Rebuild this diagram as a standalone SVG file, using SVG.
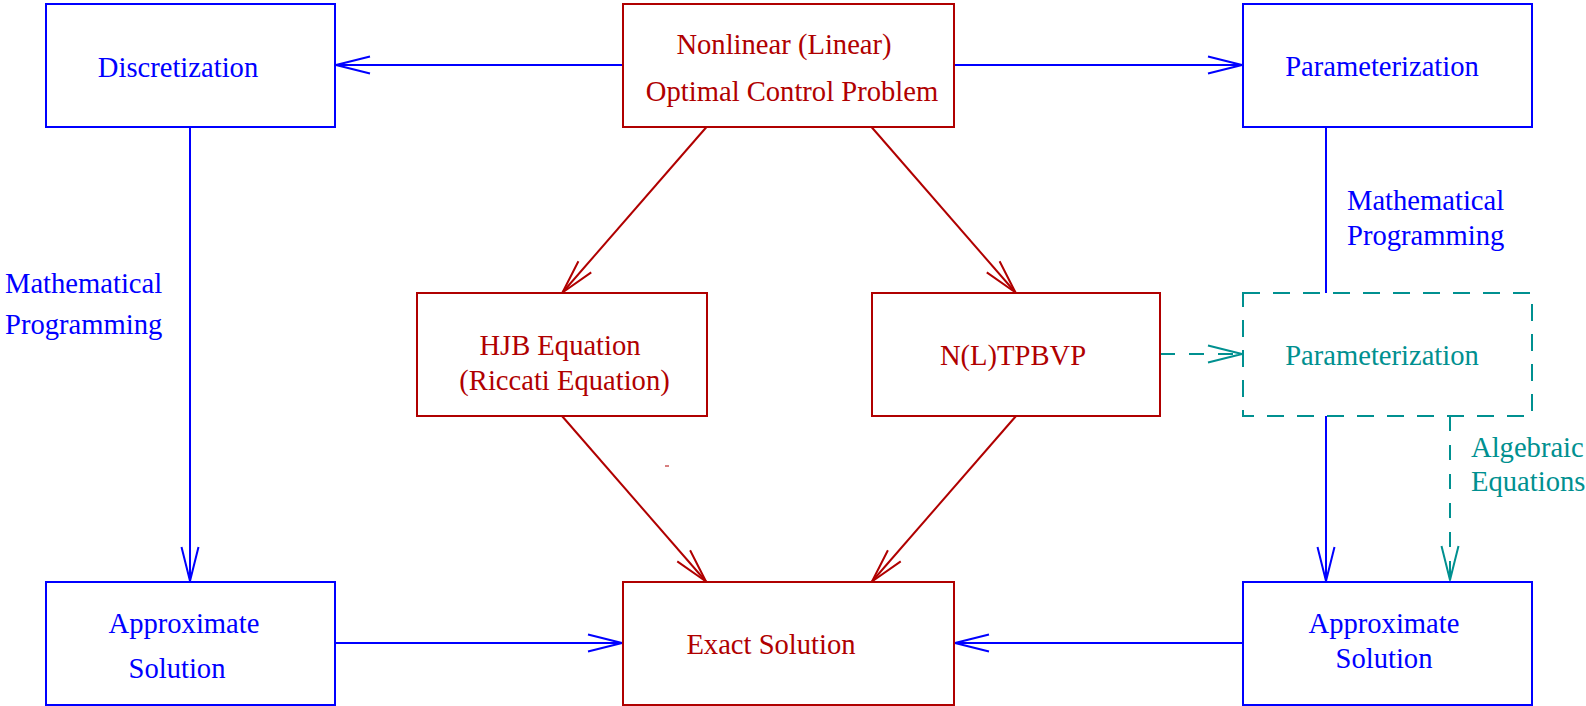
<svg xmlns="http://www.w3.org/2000/svg" width="1586" height="706" viewBox="0 0 1586 706">
  <style>
    text { font-family: "Liberation Serif", "Times New Roman", serif; font-size: 28.6px; }
    .b { fill: #0000ff; }
    .r { fill: #b00000; }
    .t { fill: #009090; }
    .mid { text-anchor: middle; }
    .box { fill: none; stroke-width: 2; }
    .boxB { stroke: #0000ff; }
    .boxR { stroke: #b00000; }
    .boxT { stroke: #009090; stroke-dasharray: 17 13; }
    .ln { fill: none; stroke-width: 2; }
    .lnB { stroke: #0000ff; }
    .lnR { stroke: #b00000; }
    .lnT { stroke: #009090; stroke-dasharray: 15 14; }
  </style>
  <defs>
    <marker id="ah-blue" markerUnits="userSpaceOnUse" markerWidth="40" markerHeight="22" viewBox="-36 -11 40 22" refX="0" refY="0" orient="auto" overflow="visible">
      <path d="M-34,-8.5 L0,0 L-34,8.5" fill="none" stroke="#0000ff" stroke-width="2" stroke-linejoin="round" stroke-dasharray="none"/>
    </marker>
    <marker id="ah-red" markerUnits="userSpaceOnUse" markerWidth="40" markerHeight="22" viewBox="-36 -11 40 22" refX="0" refY="0" orient="auto" overflow="visible">
      <path d="M-34,-8.5 L0,0 L-34,8.5" fill="none" stroke="#b00000" stroke-width="2" stroke-linejoin="round" stroke-dasharray="none"/>
    </marker>
    <marker id="ah-teal" markerUnits="userSpaceOnUse" markerWidth="40" markerHeight="22" viewBox="-36 -11 40 22" refX="0" refY="0" orient="auto" overflow="visible">
      <path d="M-34,-8.5 L0,0 L-34,8.5" fill="none" stroke="#009090" stroke-width="2" stroke-linejoin="round" stroke-dasharray="none"/>
    </marker>
  </defs>

  <rect width="1586" height="706" fill="#ffffff"/>

  <!-- connectors -->
  <g id="connectors">
    <line class="ln lnB" x1="623" y1="65" x2="336" y2="65" marker-end="url(#ah-blue)"/>
    <line class="ln lnB" x1="954" y1="65" x2="1242" y2="65" marker-end="url(#ah-blue)"/>
    <line class="ln lnB" x1="190" y1="127" x2="190" y2="581" marker-end="url(#ah-blue)"/>
    <line class="ln lnB" x1="1326" y1="127" x2="1326" y2="293"/>
    <line class="ln lnB" x1="1326" y1="416" x2="1326" y2="581" marker-end="url(#ah-blue)"/>
    <line class="ln lnB" x1="335" y1="643" x2="622" y2="643" marker-end="url(#ah-blue)"/>
    <line class="ln lnB" x1="1243" y1="643" x2="955" y2="643" marker-end="url(#ah-blue)"/>

    <line class="ln lnR" x1="706.5" y1="127" x2="562.5" y2="292.5" marker-end="url(#ah-red)"/>
    <line class="ln lnR" x1="871.5" y1="127" x2="1015.5" y2="292.5" marker-end="url(#ah-red)"/>
    <line class="ln lnR" x1="562" y1="416" x2="706" y2="581.5" marker-end="url(#ah-red)"/>
    <line class="ln lnR" x1="1016" y1="416" x2="872" y2="581.5" marker-end="url(#ah-red)"/>
    <line x1="665" y1="466" x2="669" y2="466" stroke="#b00000" stroke-width="1"/>

    <line class="ln lnT" x1="1160" y1="354" x2="1242" y2="354" marker-end="url(#ah-teal)"/>
    <line class="ln lnT" x1="1450" y1="416" x2="1450" y2="580" marker-end="url(#ah-teal)"/>
  </g>

  <!-- nodes -->
  <g id="node-discretization">
    <rect class="box boxB" x="46" y="4" width="289" height="123"/>
    <text class="b mid" x="178" y="77">Discretization</text>
  </g>
  <g id="node-ocp">
    <rect class="box boxR" x="623" y="4" width="331" height="123"/>
    <text class="r mid" x="784" y="54">Nonlinear (Linear)</text>
    <text class="r mid" x="792" y="101">Optimal Control Problem</text>
  </g>
  <g id="node-parameterization">
    <rect class="box boxB" x="1243" y="4" width="289" height="123"/>
    <text class="b mid" x="1382" y="76">Parameterization</text>
  </g>
  <g id="node-hjb">
    <rect class="box boxR" x="417" y="293" width="290" height="123"/>
    <text class="r mid" x="560" y="355">HJB Equation</text>
    <text class="r mid" x="564.5" y="390">(Riccati Equation)</text>
  </g>
  <g id="node-tpbvp">
    <rect class="box boxR" x="872" y="293" width="288" height="123"/>
    <text class="r mid" x="1013" y="365">N(L)TPBVP</text>
  </g>
  <g id="node-parameterization-2">
    <rect class="box boxT" x="1243" y="293" width="289" height="123"/>
    <text class="t mid" x="1382" y="365">Parameterization</text>
  </g>
  <g id="node-approx-left">
    <rect class="box boxB" x="46" y="582" width="289" height="123"/>
    <text class="b mid" x="184" y="633">Approximate</text>
    <text class="b mid" x="177" y="678">Solution</text>
  </g>
  <g id="node-exact">
    <rect class="box boxR" x="623" y="582" width="331" height="123"/>
    <text class="r mid" x="771" y="654">Exact Solution</text>
  </g>
  <g id="node-approx-right">
    <rect class="box boxB" x="1243" y="582" width="289" height="123"/>
    <text class="b mid" x="1384" y="633">Approximate</text>
    <text class="b mid" x="1384" y="668">Solution</text>
  </g>

  <!-- edge labels -->
  <g id="labels">
    <text class="b" x="5" y="293">Mathematical</text>
    <text class="b" x="5" y="334">Programming</text>
    <text class="b" x="1347" y="210">Mathematical</text>
    <text class="b" x="1347" y="245">Programming</text>
    <text class="t" x="1471" y="457">Algebraic</text>
    <text class="t" x="1471" y="491">Equations</text>
  </g>
</svg>
